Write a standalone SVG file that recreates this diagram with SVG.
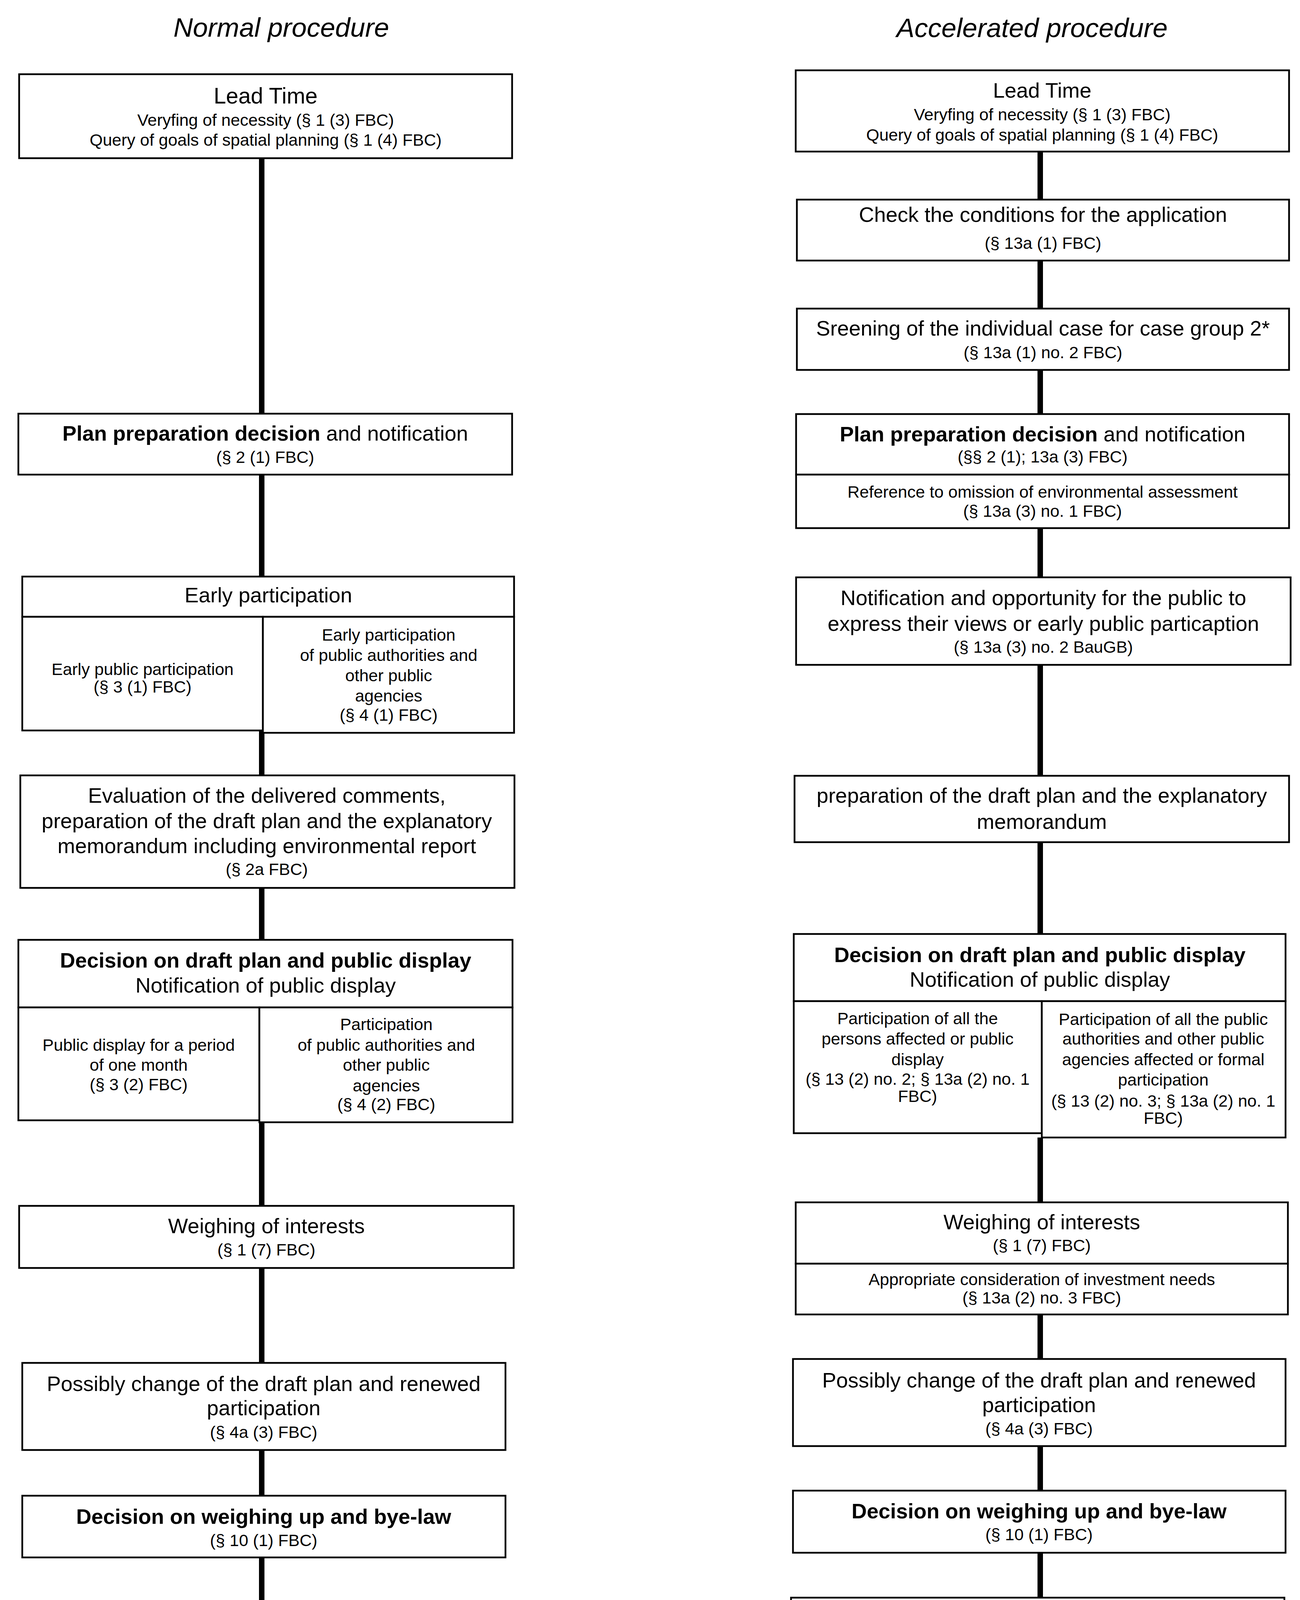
<svg xmlns="http://www.w3.org/2000/svg" width="3328" height="5091" viewBox="0 0 3328 5091" xml:space="preserve">
<defs>
<style>
.box{fill:#fff;stroke:#000;stroke-width:4.5}
text{font-family:"Liberation Sans",Arial,sans-serif;font-size:54px;text-anchor:middle;fill:#000}
.s{font-size:43px}
.b{font-weight:bold}
.title{font-size:69px;font-style:italic}
.lt{font-size:57px}
.fn{text-anchor:start}
.conn{stroke:#000;stroke-width:14;fill:none}
</style>
<marker id="arr" viewBox="0 -22 44 44" refX="0" refY="0" markerWidth="44" markerHeight="44" markerUnits="userSpaceOnUse" orient="auto"><path d="M0,-22 L44,0 L0,22 Z" fill="#000"/></marker>
</defs>
<rect width="3328" height="5091" fill="#fff"/>
<text class="title" x="720" y="94">Normal procedure</text>
<text class="title" x="2642" y="95">Accelerated procedure</text>
<g id="connectors">
<path class="conn" d="M670,405V1059M670,1215V1476M670,1870V1985M670,2273V2406M670,2873V3087M670,3246V3489M670,3712V3829M670,3987V4101M670,4258V4375"/>
<path class="conn" d="M670,4481V4553" marker-end="url(#arr)"/>
<path class="conn" d="M2663,388V511M2663,667V790M2663,947V1060M2663,1352V1478M2663,1702V1986M2663,2156V2391M2663,2912V3078M2663,3365V3479M2663,3702V3816M2663,3975V4090M2663,4245V4366"/>
<path class="conn" d="M2663,4469V4541" marker-end="url(#arr)"/>
</g>
<g id="n-lead-normal">
<rect class="box" x="49" y="190" width="1262" height="215"/>
<text class="lt" x="680" y="265">Lead Time</text>
<text class="s" x="680" y="322">Veryfing of necessity (§ 1 (3) FBC)</text>
<text class="s" x="680" y="373">Query of  goals of spatial planning (§ 1 (4) FBC)</text>
</g>
<g id="n-plan-normal">
<rect class="box" x="47" y="1059" width="1264" height="156"/>
<text x="679" y="1128"><tspan class="b">Plan preparation decision</tspan> and  notification</text>
<text class="s" x="679" y="1185">(§ 2 (1) FBC)</text>
</g>
<g id="n-early-normal">
<rect class="box" x="57" y="1476" width="1259" height="103"/>
<rect class="box" x="57" y="1579" width="616" height="291"/>
<rect class="box" x="673" y="1579" width="643" height="297"/>
<text x="687" y="1542">Early participation</text>
<text class="s" x="365" y="1728">Early public participation</text>
<text class="s" x="365" y="1773">(§ 3 (1) FBC)</text>
<text class="s" x="995" y="1640">Early participation</text>
<text class="s" x="995" y="1692">of public authorities and</text>
<text class="s" x="995" y="1744">other public</text>
<text class="s" x="995" y="1796">agencies</text>
<text class="s" x="995" y="1845">(§ 4 (1) FBC)</text>
</g>
<g id="n-eval-normal">
<rect class="box" x="52" y="1985" width="1265" height="288"/>
<text x="683" y="2055">Evaluation of the delivered comments,</text>
<text x="683" y="2120">preparation of the draft plan and the explanatory</text>
<text x="683" y="2184">memorandum including environmental report</text>
<text class="s" x="683" y="2240">(§ 2a FBC)</text>
</g>
<g id="n-draft-normal">
<rect class="box" x="47" y="2406" width="1265" height="173"/>
<rect class="box" x="47" y="2579" width="617" height="289"/>
<rect class="box" x="664" y="2579" width="648" height="294"/>
<text class="b" x="680" y="2477">Decision on draft plan and public display</text>
<text x="680" y="2541">Notification of public display</text>
<text class="s" x="355" y="2690">Public display for a period</text>
<text class="s" x="355" y="2741">of one month</text>
<text class="s" x="355" y="2791">(§ 3 (2) FBC)</text>
<text class="s" x="989" y="2637">Participation</text>
<text class="s" x="989" y="2690">of public authorities and</text>
<text class="s" x="989" y="2741">other public</text>
<text class="s" x="989" y="2794">agencies</text>
<text class="s" x="989" y="2842">(§ 4 (2) FBC)</text>
</g>
<g id="n-weigh-normal">
<rect class="box" x="49" y="3087" width="1266" height="159"/>
<text x="682" y="3157">Weighing of interests</text>
<text class="s" x="682" y="3214">(§ 1 (7) FBC)</text>
</g>
<g id="n-change-normal">
<rect class="box" x="57" y="3489" width="1237" height="223"/>
<text x="675" y="3561">Possibly change of the draft plan and renewed</text>
<text x="675" y="3623">participation</text>
<text class="s" x="675" y="3681">(§ 4a (3) FBC)</text>
</g>
<g id="n-bylaw-normal">
<rect class="box" x="57" y="3829" width="1237" height="158"/>
<text class="b" x="675" y="3901">Decision on weighing up and bye-law</text>
<text class="s" x="675" y="3958">(§ 10 (1) FBC)</text>
</g>
<g id="n-perm-normal">
<rect class="box" x="49" y="4101" width="1236" height="157"/>
<text x="667" y="4170">Possibly permission of the plan</text>
<text class="s" x="667" y="4228">(§ 10 (2) FBC)</text>
</g>
<g id="n-issue-normal">
<rect class="box" x="47" y="4375" width="1235" height="106"/>
<text x="664" y="4444">Issuing</text>
</g>
<g id="n-notif-normal">
<rect class="box" x="57" y="4597" width="1236" height="225"/>
<text x="675" y="4666">Notification of the decision on bye-law or</text>
<text x="675" y="4730">notification of the permission</text>
<text class="s" x="675" y="4788">(§ 10 (3) FBC)</text>
</g>
<g id="n-lead-acc">
<rect class="box" x="2037" y="180" width="1263" height="208"/>
<text x="2668" y="250">Lead Time</text>
<text class="s" x="2668" y="308">Veryfing of necessity (§ 1 (3) FBC)</text>
<text class="s" x="2668" y="360">Query of  goals of spatial planning (§ 1 (4) FBC)</text>
</g>
<g id="n-check-acc">
<rect class="box" x="2040" y="511" width="1260" height="156"/>
<text x="2670" y="568">Check the conditions for the application</text>
<text class="s" x="2670" y="637">(§ 13a (1) FBC)</text>
</g>
<g id="n-screen-acc">
<rect class="box" x="2040" y="790" width="1260" height="157"/>
<text x="2670" y="859">Sreening of the individual case for case group 2*</text>
<text class="s" x="2670" y="917">(§ 13a (1) no. 2 FBC)</text>
</g>
<g id="n-plan-acc">
<rect class="box" x="2038" y="1060" width="1262" height="155"/>
<rect class="box" x="2038" y="1215" width="1262" height="137"/>
<text x="2669" y="1130"><tspan class="b">Plan preparation decision</tspan> and  notification</text>
<text class="s" x="2669" y="1184">(§§ 2 (1); 13a (3) FBC)</text>
<text class="s" x="2669" y="1274">Reference to omission of environmental  assessment</text>
<text class="s" x="2669" y="1323">(§ 13a (3) no. 1 FBC)</text>
</g>
<g id="n-notify-acc">
<rect class="box" x="2038" y="1478" width="1266" height="224"/>
<text x="2671" y="1549">Notification and opportunity for the public to</text>
<text x="2671" y="1615">express their views or early public particaption</text>
<text class="s" x="2671" y="1671">(§ 13a (3) no. 2 BauGB)</text>
</g>
<g id="n-prep-acc">
<rect class="box" x="2034" y="1986" width="1266" height="170"/>
<text x="2667" y="2055">preparation of the draft plan and the explanatory</text>
<text x="2667" y="2122">memorandum</text>
</g>
<g id="n-draft-acc">
<rect class="box" x="2032" y="2391" width="1259" height="172"/>
<rect class="box" x="2032" y="2563" width="635" height="338"/>
<rect class="box" x="2667" y="2563" width="624" height="349"/>
<text class="b" x="2662" y="2463">Decision on draft plan and public display</text>
<text x="2662" y="2526">Notification of public display</text>
<text class="s" x="2349" y="2622">Participation of all the</text>
<text class="s" x="2349" y="2674">persons affected or public</text>
<text class="s" x="2349" y="2727">display</text>
<text class="s" x="2349" y="2777">(§ 13 (2) no. 2; § 13a (2) no. 1</text>
<text class="s" x="2349" y="2821">FBC)</text>
<text class="s" x="2978" y="2624">Participation of all the public</text>
<text class="s" x="2978" y="2674">authorities and other public</text>
<text class="s" x="2978" y="2727">agencies affected or formal</text>
<text class="s" x="2978" y="2779">participation</text>
<text class="s" x="2978" y="2833">(§ 13 (2) no. 3; § 13a (2) no. 1</text>
<text class="s" x="2978" y="2877">FBC)</text>
</g>
<g id="n-weigh-acc">
<rect class="box" x="2037" y="3078" width="1260" height="157"/>
<rect class="box" x="2037" y="3235" width="1260" height="130"/>
<text x="2667" y="3147">Weighing of interests</text>
<text class="s" x="2667" y="3203">(§ 1 (7) FBC)</text>
<text class="s" x="2667" y="3290">Appropriate consideration of investment needs</text>
<text class="s" x="2667" y="3337">(§ 13a (2) no. 3 FBC)</text>
</g>
<g id="n-change-acc">
<rect class="box" x="2030" y="3479" width="1261" height="223"/>
<text x="2660" y="3552">Possibly change of the draft plan and renewed</text>
<text x="2660" y="3615">participation</text>
<text class="s" x="2660" y="3672">(§ 4a (3) FBC)</text>
</g>
<g id="n-bylaw-acc">
<rect class="box" x="2030" y="3816" width="1261" height="159"/>
<text class="b" x="2660" y="3887">Decision on weighing up and bye-law</text>
<text class="s" x="2660" y="3943">(§ 10 (1) FBC)</text>
</g>
<g id="n-perm-acc">
<rect class="box" x="2025" y="4090" width="1263" height="155"/>
<text x="2657" y="4158">Possibly permission of the plan</text>
<text class="s" x="2657" y="4215">(§ 10 (2) FBC)</text>
</g>
<g id="n-issue-acc">
<rect class="box" x="2030" y="4366" width="1258" height="103"/>
<text x="2659" y="4437">Issuing</text>
</g>
<g id="n-notif-acc">
<rect class="box" x="2030" y="4585" width="1261" height="225"/>
<text x="2660" y="4655">Notification of the decision on bye-law or</text>
<text x="2660" y="4717">notification of the permission</text>
<text class="s" x="2660" y="4776">(§ 10 (3) FBC)</text>
</g>
<g id="footnote">
<text class="fn" x="2081" y="4925">* case group 2: binding land-use plans with a</text>
<text class="fn" x="2081" y="4989">coverage rate of 20.000 - &lt; 70.000 m² (§ 13a (1)</text>
<text class="fn" x="2081" y="5053">no. 2 FBC)</text>
</g>
</svg>
